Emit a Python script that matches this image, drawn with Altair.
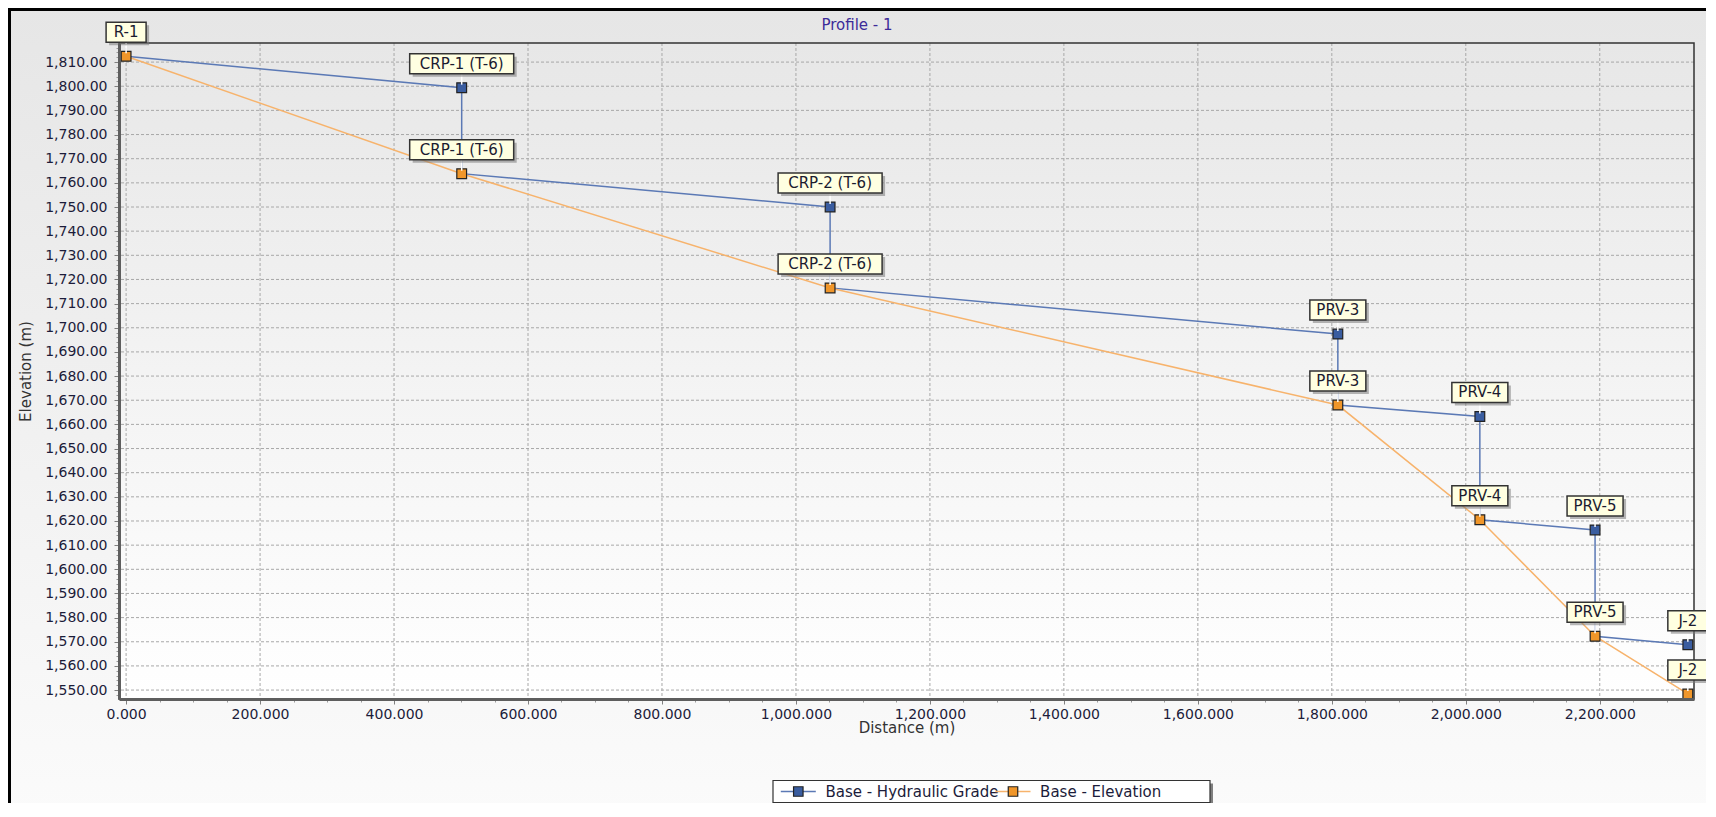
import altair as alt
import pandas as pd

# ---------------- data ----------------
node_names = ["R-1", "CRP-1 (T-6)", "CRP-2 (T-6)", "PRV-3", "PRV-4", "PRV-5", "J-2"]
distance_m = [0.0, 501.0, 1051.0, 1809.0, 2021.0, 2193.0, 2331.5]
hgl_in_m = [1812.4, 1799.4, 1750.0, 1697.4, 1663.3, 1616.3, 1568.8]
hgl_out_m = [1812.4, 1763.8, 1716.5, 1668.0, 1620.5, 1572.3, 1568.8]
elevation_m = [1812.4, 1763.8, 1716.5, 1668.0, 1620.5, 1572.3, 1548.4]
series_names = ["Base - Hydraulic Grade", "Base - Elevation"]
x_major = [0, 200, 400, 600, 800, 1000, 1200, 1400, 1600, 1800, 2000, 2200]
x_minor = [i * 50 for i in range(0, 47)]
y_major = [1550 + 10 * i for i in range(0, 27)]
y_minor = [1548 + 2 * i for i in range(0, 135)]

HGL, ELEV = series_names
LINE_COLORS = ["#5b79b5", "#f7b36c"]
SQUARE_COLORS = ["#3a5da0", "#f0962a"]

# ---------------- tables built from the arrays ----------------
line_rows = []
seq = 0
for d, hi, ho in zip(distance_m, hgl_in_m, hgl_out_m):
    line_rows.append({"series": HGL, "d": d, "v": hi, "seq": seq}); seq += 1
    if ho != hi:
        line_rows.append({"series": HGL, "d": d, "v": ho, "seq": seq}); seq += 1
for d, e in zip(distance_m, elevation_m):
    line_rows.append({"series": ELEV, "d": d, "v": e, "seq": seq}); seq += 1
df_lines = pd.DataFrame(line_rows)

pt_rows = []
for i, (n, d, hi) in enumerate(zip(node_names, distance_m, hgl_in_m)):
    if i > 0:
        pt_rows.append({"series": HGL, "d": d, "v": hi, "label": n})
for n, d, e in zip(node_names, distance_m, elevation_m):
    pt_rows.append({"series": ELEV, "d": d, "v": e, "label": n})
df_pts = pd.DataFrame(pt_rows)

# ---------------- layout ----------------
W, H = 1575, 656
PAD = {"left": 111, "top": 35, "right": 12, "bottom": 104}
FONT = "DejaVu Sans"
TXT = "#1c1c3a"

xs = alt.Scale(domain=[-10.6, 2340.7], nice=False, zero=False)
ys = alt.Scale(domain=[1546.3, 1817.9], nice=False, zero=False)

one = pd.DataFrame({"k": [0]})

grad_outer = {"gradient": "linear", "x1": 0, "y1": 0, "x2": 0, "y2": 1,
              "stops": [{"offset": 0, "color": "#e6e6e6"}, {"offset": 1, "color": "#fbfbfb"}]}
grad_plot = {"gradient": "linear", "x1": 0, "y1": 0, "x2": 0, "y2": 1,
             "stops": [{"offset": 0, "color": "#e7e7e7"}, {"offset": 1, "color": "#ffffff"}]}

bg_outer = alt.Chart(one).mark_rect(fill=grad_outer, stroke="black", strokeWidth=3).encode(
    x=alt.value(-PAD["left"] + 1.5), x2=alt.value(W + PAD["right"] + 20),
    y=alt.value(-PAD["top"] + 1.5), y2=alt.value(H + PAD["bottom"] + 20))

bg_plot = alt.Chart(one).mark_rect(fill=grad_plot).encode(
    x=alt.value(0), x2=alt.value(W), y=alt.value(0), y2=alt.value(H))

minor_x_axis = alt.Axis(values=x_minor, labels=False, domain=False, grid=False, ticks=True,
                        tickSize=3, tickColor="#9a9a9a", orient="bottom", title=None, zindex=1)
minor_y_axis = alt.Axis(values=y_minor, labels=False, domain=False, grid=False, ticks=True,
                        tickSize=3, tickColor="#9a9a9a", orient="left", title=None, zindex=1)

grid_x = alt.Chart(pd.DataFrame({"d": x_major})).mark_rule(
    color="#a8a8a8", strokeDash=[3, 2], strokeWidth=1).encode(
    x=alt.X("d:Q", scale=xs, axis=minor_x_axis))
grid_y = alt.Chart(pd.DataFrame({"v": y_major})).mark_rule(
    color="#a8a8a8", strokeDash=[3, 2], strokeWidth=1).encode(
    y=alt.Y("v:Q", scale=ys, axis=minor_y_axis))

frame = alt.Chart(one).mark_rect(fillOpacity=0, stroke="#333333", strokeWidth=1.5).encode(
    x=alt.value(0), x2=alt.value(W), y=alt.value(0), y2=alt.value(H))

main_x = alt.Axis(values=x_major, format=",.3f", title="Distance (m)", orient="bottom", grid=False,
                  domainColor="#5e5e5e", domainWidth=3, tickColor="#808080", tickSize=5,
                  labelFont=FONT, labelFontSize=14, labelColor=TXT, labelPadding=3,
                  labelFlush=False, labelOverlap=False,
                  titleFont=FONT, titleFontSize=15, titleFontWeight="normal", titleColor="#333333",
                  titleX=W / 2, titleY=28, titleBaseline="middle", titleAlign="center", zindex=1)
main_y = alt.Axis(values=y_major, format=",.2f", title="Elevation (m)", orient="left", grid=False,
                  domainColor="#5e5e5e", domainWidth=3, tickColor="#808080", tickSize=5,
                  labelFont=FONT, labelFontSize=14, labelColor=TXT, labelPadding=7,
                  labelOverlap=False, labelFlush=False,
                  titleFont=FONT, titleFontSize=15, titleFontWeight="normal", titleColor="#333333",
                  titleAngle=270, titleX=-94, titleY=H / 2, titleBaseline="middle",
                  titleAlign="center", zindex=1)

lines = alt.Chart(df_lines).mark_line(strokeWidth=1.5).encode(
    x=alt.X("d:Q", scale=xs, axis=main_x),
    y=alt.Y("v:Q", scale=ys, axis=main_y),
    stroke=alt.Stroke("series:N", scale=alt.Scale(domain=series_names, range=LINE_COLORS),
                      legend=None),
    detail="series:N",
    order="seq:Q")

squares = alt.Chart(df_pts).mark_point(shape="square", filled=True, size=95, stroke="#222222",
                                       strokeWidth=1.2, opacity=1).encode(
    x=alt.X("d:Q", scale=xs, axis=None),
    y=alt.Y("v:Q", scale=ys, axis=None),
    fill=alt.Fill("series:N", scale=alt.Scale(domain=series_names, range=SQUARE_COLORS),
                  legend=None))

leaders = alt.Chart(df_pts).mark_rule(color="white", strokeWidth=1.5, yOffset=-14, y2Offset=-3).encode(
    x=alt.X("d:Q", scale=xs, axis=None),
    y=alt.Y("v:Q", scale=ys, axis=None), y2="v:Q")

WEXPR = "(length(datum.label) * 8 + 16)"
shadows = alt.Chart(df_pts).mark_rect(
    fill="#7a7a7a", opacity=0.55,
    xOffset=alt.expr(f"-{WEXPR}/2 + 3"), x2Offset=alt.expr(f"{WEXPR}/2 + 3"),
    yOffset=-31, y2Offset=-11).encode(
    x=alt.X("d:Q", scale=xs, axis=None), x2="d:Q",
    y=alt.Y("v:Q", scale=ys, axis=None), y2="v:Q")
boxes = alt.Chart(df_pts).mark_rect(
    fill="#ffffe1", stroke="#333333", strokeWidth=1.5,
    xOffset=alt.expr(f"-{WEXPR}/2"), x2Offset=alt.expr(f"{WEXPR}/2"),
    yOffset=-34, y2Offset=-14).encode(
    x=alt.X("d:Q", scale=xs, axis=None), x2="d:Q",
    y=alt.Y("v:Q", scale=ys, axis=None), y2="v:Q")
texts = alt.Chart(df_pts).mark_text(dy=-24, font=FONT, fontSize=15, color="#1b1b30",
                                    baseline="middle", align="center").encode(
    x=alt.X("d:Q", scale=xs, axis=None),
    y=alt.Y("v:Q", scale=ys, axis=None),
    text="label:N")

title = alt.Chart(one).mark_text(text="Profile - 1", font=FONT, fontSize=15, color="#3d2b99",
                                 baseline="middle", align="center").encode(
    x=alt.value(738), y=alt.value(-18.5))

# ---------------- legend (boxed, below the plot) ----------------
LX0, LX1, LY0, LY1 = 654, 1091, 737.5, 759.5
LYC = (LY0 + LY1) / 2
leg_shadow = alt.Chart(one).mark_rect(fill="#555555", opacity=0.75).encode(
    x=alt.value(LX0 + 3), x2=alt.value(LX1 + 3), y=alt.value(LY0 + 3), y2=alt.value(LY1 + 3))
leg_box = alt.Chart(one).mark_rect(fill="white", stroke="#333333", strokeWidth=1.2).encode(
    x=alt.value(LX0), x2=alt.value(LX1), y=alt.value(LY0), y2=alt.value(LY1))
legend_layers = [leg_shadow, leg_box]
for i, name in enumerate(series_names):
    sx = LX0 + 7.8 + i * 214.7
    df_n = pd.DataFrame({"name": [name]})
    legend_layers.append(alt.Chart(df_n).mark_rule(color=LINE_COLORS[i], strokeWidth=1.5).encode(
        x=alt.value(sx), x2=alt.value(sx + 35), y=alt.value(LYC)))
    legend_layers.append(alt.Chart(df_n).mark_point(shape="square", filled=True, size=90,
                                                    fill=SQUARE_COLORS[i], stroke="#222222",
                                                    strokeWidth=1.2, opacity=1).encode(
        x=alt.value(sx + 17.5), y=alt.value(LYC)))
    legend_layers.append(alt.Chart(df_n).mark_text(font=FONT, fontSize=15, color=TXT,
                                                   align="left", baseline="middle").encode(
        x=alt.value(sx + 44.6), y=alt.value(LYC), text="name:N"))

chart = alt.layer(bg_outer, bg_plot, grid_x, grid_y, frame, lines, squares, leaders,
                  shadows, boxes, texts, title, *legend_layers).resolve_axis(
    x="independent", y="independent").properties(
    width=W, height=H, autosize=alt.AutoSizeParams(type="none"), padding=PAD,
    background="white").configure_view(stroke=None)

chart.save("out.html", embed_options={"renderer": "svg", "actions": False})
